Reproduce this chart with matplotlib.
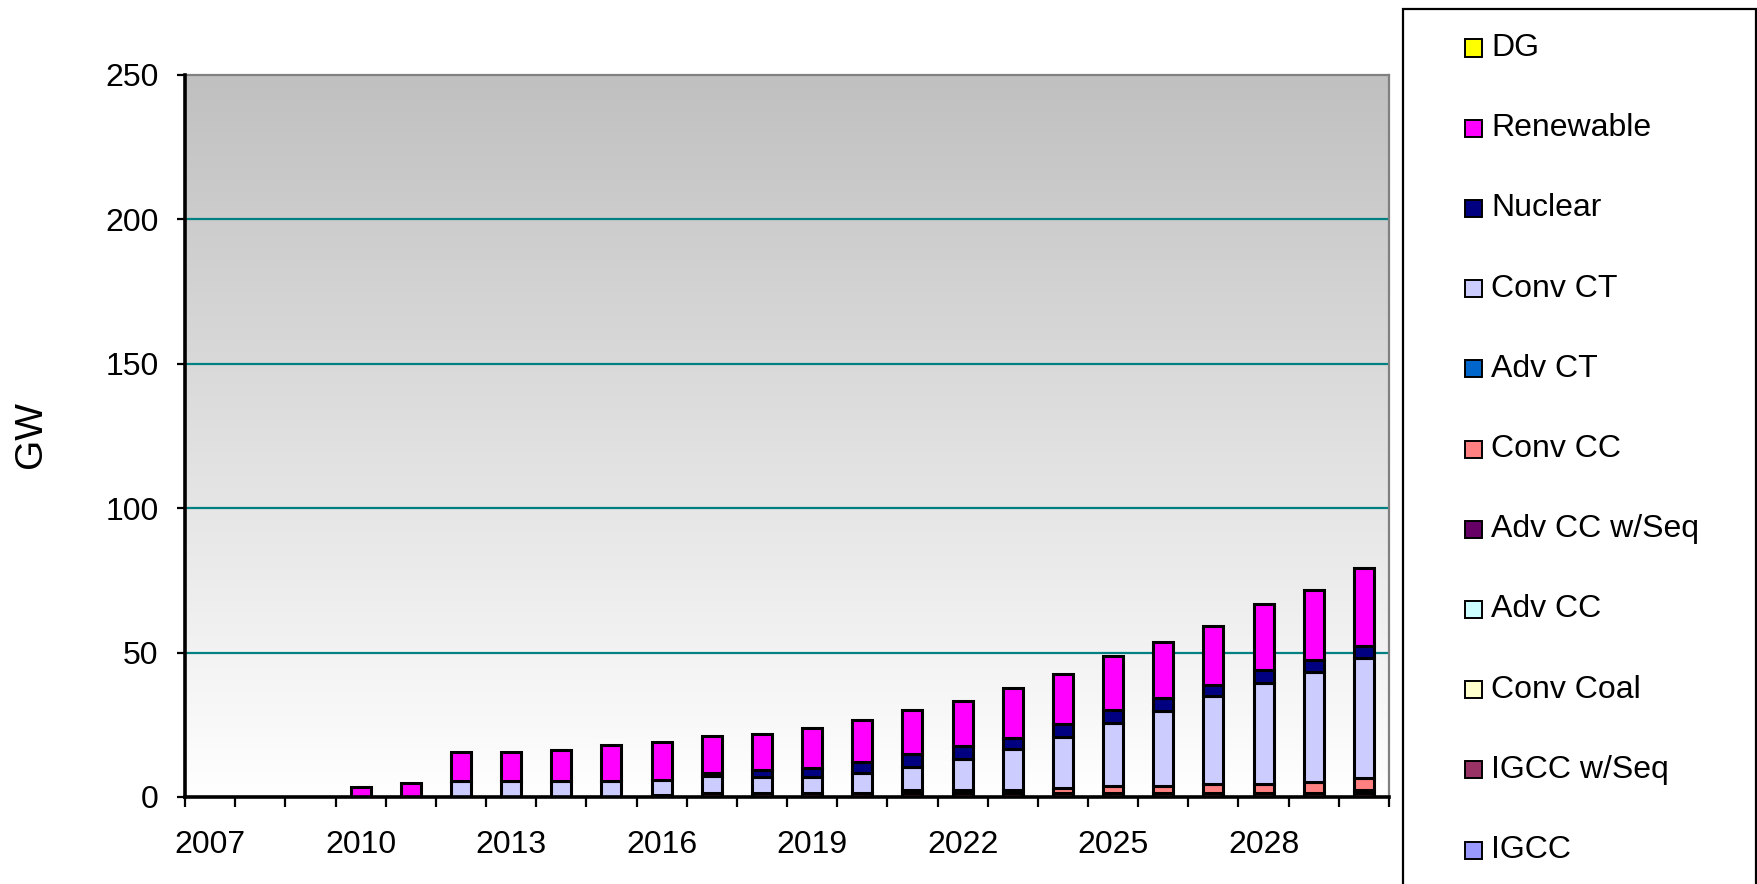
import numpy as np
import matplotlib
matplotlib.use("Agg")
import matplotlib.pyplot as plt
from matplotlib.colors import LinearSegmentedColormap
from matplotlib.patches import Rectangle

plt.rcParams['font.family'] = ['Liberation Sans', 'DejaVu Sans']

years = list(range(2007, 2031))

# GW added by technology, bottom of the stack first
igcc = [0] * 24
igcc_seq = [0, 0, 0, 0, 0, 0, 0, 0, 0, 0.8, 1.4, 1.4, 1.4, 1.4, 1.4, 1.4, 1.4, 1.4, 1.4, 1.4, 1.4, 1.4, 1.4, 1.4]
conv_coal = [0] * 24
adv_cc = [0] * 24
adv_cc_seq = [0, 0, 0, 0, 0, 0, 0, 0, 0, 0, 0, 0, 0, 0, 1.0, 1.0, 0.9, 0, 0, 0, 0, 0, 0, 0.9]
conv_cc = [0, 0, 0, 0, 0, 0, 0, 0, 0, 0, 0, 0, 0, 0, 0, 0, 0, 1.7, 2.45, 2.45, 3.2, 3.2, 3.8, 4.3]
adv_ct = [0] * 24
conv_ct = [0, 0, 0, 0, 0, 5.4, 5.4, 5.4, 5.4, 5.2, 5.7, 5.6, 5.6, 7.0, 8.1, 10.8, 14.4, 17.8, 21.9, 26.1, 30.25, 34.95, 38.0, 41.6]
nuclear = [0, 0, 0, 0, 0, 0, 0, 0, 0, 0, 1.1, 2.3, 2.9, 3.7, 4.4, 4.4, 3.65, 4.25, 4.25, 4.35, 4.05, 4.5, 4.1, 4.0]
renewable = [0, 0, 0, 3.4, 4.8, 10.3, 10.3, 11.0, 12.6, 13.1, 12.9, 12.5, 13.9, 14.5, 15.1, 15.8, 17.4, 17.3, 18.65, 19.35, 20.15, 22.75, 24.3, 27.1]
dg = [0] * 24

series = [
    ("IGCC", igcc, "#9999FF"),
    ("IGCC w/Seq", igcc_seq, "#993366"),
    ("Conv Coal", conv_coal, "#FFFFCC"),
    ("Adv CC", adv_cc, "#CCFFFF"),
    ("Adv CC w/Seq", adv_cc_seq, "#660066"),
    ("Conv CC", conv_cc, "#FF8080"),
    ("Adv CT", adv_ct, "#0066CC"),
    ("Conv CT", conv_ct, "#CCCCFF"),
    ("Nuclear", nuclear, "#000080"),
    ("Renewable", renewable, "#FF00FF"),
    ("DG", dg, "#FFFF00"),
]

W, H = 1758, 884
fig = plt.figure(figsize=(W / 100, H / 100), dpi=100)
ax = fig.add_axes([185 / W, 1 - 797 / H, (1389 - 185) / W, (797 - 75) / H])

x = np.arange(len(years))
ax.set_xlim(-0.5, len(years) - 0.5)
ax.set_ylim(0, 250)

# gray to white fill of the plot area
cmap = LinearSegmentedColormap.from_list("bg", ["#C0C0C0", "#FFFFFF"])
ax.imshow(np.linspace(0, 1, 256).reshape(-1, 1), cmap=cmap, aspect="auto",
          extent=(-0.5, len(years) - 0.5, 0, 250), zorder=0)

for yv in [50, 100, 150, 200]:
    ax.axhline(yv, color="#008080", lw=1.6, zorder=1)

bottom = np.zeros(len(years))
for name, vals, col in series:
    v = np.array(vals, dtype=float)
    mask = v > 0
    ax.bar(x[mask], v[mask], 0.4, bottom=bottom[mask], color=col,
           edgecolor="black", linewidth=2.2, zorder=3)
    bottom += v

ax.set_yticks([0, 50, 100, 150, 200, 250])
ax.set_xticks(x[::3])
ax.set_xticklabels([str(y) for y in years[::3]])
ax.set_xticks(np.arange(-0.5, len(years)), minor=True)
ax.tick_params(axis="x", which="major", length=0, pad=24, labelsize=23)
ax.tick_params(axis="x", which="minor", length=7, width=1.6, direction="out")
ax.tick_params(axis="y", length=6, width=1.6, pad=13, labelsize=23)

for s in ["left", "bottom"]:
    ax.spines[s].set_linewidth(2.6)
    ax.spines[s].set_color("black")
    ax.spines[s].set_zorder(5)
for s in ["top", "right"]:
    ax.spines[s].set_linewidth(1.6)
    ax.spines[s].set_color("#808080")

fig.text(31 / W, 1 - 434 / H, "GW", rotation=90, ha="center", va="center", fontsize=28)

# legend box, top entry first
fig.patches.append(Rectangle((1403 / W, -0.01), (1756 - 1403) / W, 1.01 - 9 / H,
                             transform=fig.transFigure, fill=False,
                             edgecolor="black", linewidth=1.6))
for i, (name, vals, col) in enumerate(reversed(series)):
    yc = 48 + 80.2 * i
    fig.patches.append(Rectangle((1465 / W, 1 - (yc + 8.5) / H), 17 / W, 17 / H,
                                 transform=fig.transFigure, facecolor=col,
                                 edgecolor="black", linewidth=1.4))
    fig.text(1491 / W, 1 - yc / H, name, ha="left", va="center", fontsize=23)

fig.savefig("out.png", dpi=100)
